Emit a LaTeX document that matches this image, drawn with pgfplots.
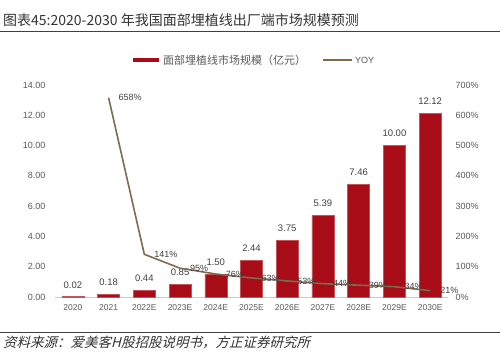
\documentclass[border=0pt]{standalone}
\usepackage{fontspec}
\usepackage{pgfplots}
\pgfplotsset{compat=1.18}
\setmainfont{Liberation Sans}
\newfontfamily\cjk{Noto Sans CJK SC}
\newfontfamily\cjkit[FakeSlant=0.25]{Noto Sans CJK SC}
\definecolor{barred}{HTML}{A80C16}
\definecolor{yoyline}{HTML}{7D6B4E}
\definecolor{ticktxt}{HTML}{595959}
\definecolor{lbltxt}{HTML}{404040}
\begin{document}
\begin{tikzpicture}
\begin{scope}[x=1pt,y=1pt]
\useasboundingbox (0,0) rectangle (500,362);
% title
\node[anchor=west, inner sep=0, text=black!80] at (3,342) {\fontsize{14}{16}\selectfont\cjk 图表45:2020-2030 年我国面部埋植线出厂端市场规模预测};
\draw[line width=0.9pt, black!75] (0,331) -- (500,331);
% legend
\fill[barred] (133,300) rectangle (159,304);
\node[anchor=west, inner sep=0, text=ticktxt] at (163,302) {\fontsize{11}{13}\selectfont\cjk 面部埋植线市场规模（亿元）};
\draw[yoyline, line width=1.6pt] (323,302) -- (352,302);
\node[anchor=west, inner sep=0, text=ticktxt] at (355,302) {\fontsize{9}{11}\selectfont YOY};
% source
\draw[line width=0.9pt, black!75] (0,30) -- (500,30);
\node[anchor=west, inner sep=0, text=black!80] at (3,20) {\fontsize{13.5}{15}\selectfont\cjkit 资料来源：爱美客H股招股说明书，方正证券研究所};
\end{scope}
% bars
\begin{axis}[
  at={(55pt,65pt)}, anchor=south west,
  scale only axis, width=393pt, height=212pt,
  xmin=-0.5, xmax=10.5, ymin=0, ymax=14,
  ytick={0,2,...,14},
  xtick={0,...,10},
  xticklabels={2020,2021,2022E,2023E,2024E,2025E,2026E,2027E,2028E,2029E,2030E},
  axis x line*=bottom, axis y line*=left,
  y axis line style={draw=none},
  x axis line style={draw=black!20, line width=0.8pt, -},
  major tick length=0pt,
  tick label style={text=ticktxt, font=\fontsize{8.5}{10}\selectfont},
  yticklabel style={font=\fontsize{9}{10}\selectfont, xshift=-6pt,
    /pgf/number format/fixed, /pgf/number format/fixed zerofill, /pgf/number format/precision=2},
  /pgf/number format/assume math mode=true,
  xticklabel style={yshift=-4pt},
  ybar, bar width=22pt,
  nodes near coords,
  every node near coord/.append style={text=lbltxt, font=\fontsize{9.5}{11}\selectfont, yshift=5pt,
    /pgf/number format/fixed, /pgf/number format/fixed zerofill, /pgf/number format/precision=2},
  clip=false,
]
\addplot[fill=barred, draw=barred!70!white, line width=0.4pt] coordinates {
(0,0.02) (1,0.18) (2,0.44) (3,0.85) (4,1.50) (5,2.44) (6,3.75) (7,5.39) (8,7.46) (9,10.00) (10,12.12)};
\end{axis}
% yoy line
\begin{axis}[
  at={(55pt,65pt)}, anchor=south west,
  scale only axis, width=393pt, height=212pt,
  xmin=-0.5, xmax=10.5, ymin=0, ymax=700,
  ytick={0,100,...,700},
  yticklabel={\pgfmathprintnumber{\tick}\%},
  axis y line*=right, axis x line=none,
  y axis line style={draw=none},
  major tick length=0pt,
  tick label style={text=ticktxt, font=\fontsize{9}{10}\selectfont},
  /pgf/number format/assume math mode=true,
  yticklabel style={xshift=4pt},
  nodes near coords={\pgfmathprintnumber[fixed,precision=0]{\pgfplotspointmeta}\%},
  every node near coord/.append style={anchor=west, xshift=6pt, text=lbltxt, font=\fontsize{9}{10}\selectfont},
  clip=false,
]
\addplot[yoyline, line width=1.6pt, mark=none] coordinates {
(1,658) (2,141) (3,95) (4,76) (5,63) (6,53) (7,44) (8,39) (9,34) (10,21)};
\end{axis}
\end{tikzpicture}
\end{document}
